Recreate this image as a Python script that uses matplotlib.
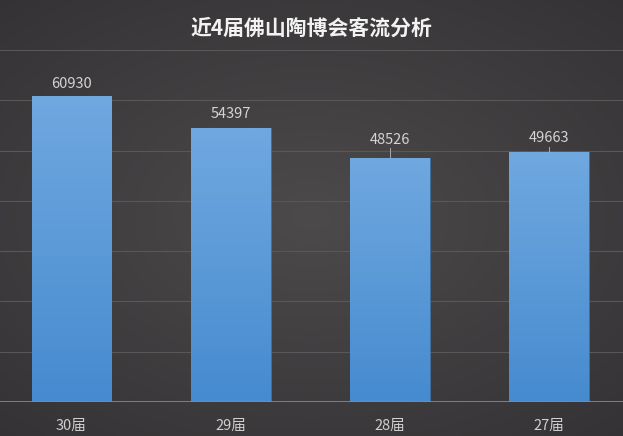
import matplotlib
matplotlib.use('Agg')
import matplotlib.pyplot as plt
import numpy as np

plt.rcParams['font.family'] = ['Noto Sans CJK SC', 'DejaVu Sans']

# 数据
sessions = ['30届', '29届', '28届', '27届']
visitors = [60930, 54397, 48526, 49663]
title = '近4届佛山陶博会客流分析'

fig = plt.figure(figsize=(6.23, 4.36), dpi=100)

# 背景渐变（中间亮、四周暗）
bg = fig.add_axes([0, 0, 1, 1])
gx, gy = np.meshgrid(np.linspace(-1, 1, 300), np.linspace(-1, 1, 220))
r = np.sqrt((gx / 1.1) ** 2 + (gy / 1.0) ** 2)
shade = np.clip(1 - r * 0.6, 0, 1)
c0 = np.array([0x2f, 0x2d, 0x2f]) / 255.0
c1 = np.array([0x4d, 0x4a, 0x4c]) / 255.0
img = c0 + (c1 - c0) * shade[..., None]
bg.imshow(img, aspect='auto', extent=[0, 1, 0, 1], origin='lower')
bg.set_axis_off()

ax = fig.add_axes([0, 34 / 436, 1, (402 - 50) / 436])
ax.patch.set_alpha(0)
x = np.arange(len(sessions))
bars = ax.bar(x, visitors, width=0.5, color='#5b9bd9', edgecolor='#3f6f9f',
              linewidth=0.6, zorder=3)

# 柱子竖向渐变
grad = np.linspace(0, 1, 256)[:, None]
top = np.array([0x70, 0xa8, 0xe0]) / 255.0
bot = np.array([0x46, 0x8b, 0xcf]) / 255.0
gimg = bot + (top - bot) * grad[..., None]
for b in bars:
    bx, bw, bh = b.get_x(), b.get_width(), b.get_height()
    im = ax.imshow(gimg, aspect='auto', extent=[bx, bx + bw, 0, bh],
                   origin='lower', zorder=3.5)
    im.set_clip_path(b)

ax.set_xlim(-0.449, 3.464)
ax.set_ylim(0, 70000)

# 网格线
for yv in range(10000, 70001, 10000):
    ax.axhline(yv, color='#5a5759', linewidth=0.8, zorder=1)
ax.axhline(0, color='#8c8a8b', linewidth=1.2, zorder=4)

# 数值标签（后两个带引导线）
offsets = [2400, 2800, 3600, 2800]
for xi, v, off in zip(x, visitors, offsets):
    ax.text(xi, v + off, str(v), ha='center', va='center', fontsize=10.5,
            color='#d4d4d4', zorder=5)
    if xi >= 2:
        ax.plot([xi, xi], [v + 100, v + off - 1700], color='#aaaaaa',
                linewidth=0.7, zorder=5)

for s in ax.spines.values():
    s.set_visible(False)
ax.set_yticks([])
ax.set_xticks(x)
ax.set_xticklabels(sessions, fontsize=10.5, color='#d0d0d0')
ax.tick_params(axis='x', length=0, pad=12)

fig.text(0.5, 1 - 28 / 436, title, ha='center', va='center', fontsize=15,
         fontweight='bold', color='#f2f2f2')

fig.savefig('out.png', dpi=100)
